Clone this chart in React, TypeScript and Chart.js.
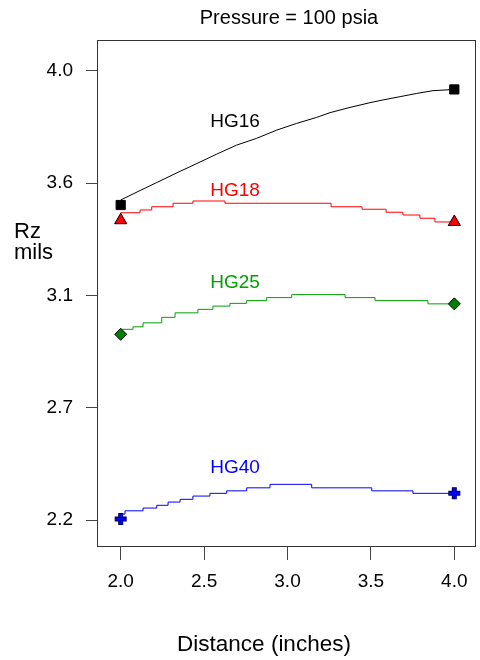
import React, { useEffect, useRef } from 'react';
import { Chart, registerables } from 'chart.js';

Chart.register(...registerables);

const FONT = "'Liberation Sans', Arial, Helvetica, sans-serif";

const TITLE = 'Pressure = 100 psia';
const X_TITLE = 'Distance (inches)';
const Y_TITLE_LINES = ['Rz', 'mils'];

const X_TICKS = [2.0, 2.5, 3.0, 3.5, 4.0];
const Y_TICKS = [2.2, 2.65, 3.1, 3.55, 4.0];
const Y_TICK_LABELS = ['2.2', '2.7', '3.1', '3.6', '4.0'];

const SERIES_NAMES = ['HG16', 'HG18', 'HG25', 'HG40'];
const SERIES_COLORS = ['#000000', '#ff0000', '#00a000', '#0000ff'];

const HG16_X = [2.0, 2.116, 2.216, 2.356, 2.415, 2.576, 2.695, 2.815, 2.935, 3.055, 3.175, 3.255, 3.375, 3.495, 3.573, 3.675, 3.775, 3.872, 4.0];
const HG16_Y = [3.482, 3.52, 3.552, 3.597, 3.615, 3.666, 3.702, 3.729, 3.762, 3.789, 3.813, 3.832, 3.853, 3.872, 3.883, 3.896, 3.909, 3.92, 3.925];

const HG18_X = [2.0, 2.116, 2.186, 2.314, 2.433, 2.625, 3.261, 3.447, 3.591, 3.692, 3.794, 3.884, 3.986, 4.0];
const HG18_Y = [3.42, 3.431, 3.442, 3.455, 3.469, 3.478, 3.469, 3.455, 3.445, 3.433, 3.422, 3.409, 3.394, 3.394];

const HG25_X = [2.0, 2.074, 2.134, 2.246, 2.326, 2.463, 2.553, 2.655, 2.755, 2.875, 3.025, 3.345, 3.525, 3.842, 4.0];
const HG25_Y = [2.954, 2.964, 2.974, 2.99, 3.012, 3.03, 3.044, 3.057, 3.068, 3.079, 3.091, 3.103, 3.091, 3.079, 3.066];

const HG40_X = [2.0, 2.026, 2.134, 2.216, 2.284, 2.356, 2.433, 2.535, 2.635, 2.755, 2.895, 3.145, 3.505, 3.752, 3.914, 4.0];
const HG40_Y = [2.213, 2.224, 2.237, 2.248, 2.259, 2.272, 2.283, 2.296, 2.307, 2.317, 2.329, 2.343, 2.329, 2.317, 2.307, 2.307];

const MARKER_X = [2.0, 4.0];
const HG16_MARK = [3.462, 3.925];
const HG18_MARK = [3.401, 3.394];
const HG25_MARK = [2.944, 3.066];
const HG40_MARK = [2.204, 2.307];

const LABEL_X = [2.537, 2.537, 2.537, 2.537];
const LABEL_Y = [3.796, 3.519, 3.149, 2.409];

const pts = (xs: number[], ys: number[]) => xs.map((x, i) => ({ x, y: ys[i] }));

const decorPlugin = {
  id: 'decor',
  beforeDatasetsDraw(chart: any) {
    const { ctx, chartArea } = chart;
    ctx.save();
    ctx.strokeStyle = '#333333';
    ctx.lineWidth = 1;
    const l = Math.round(chartArea.left) + 0.5;
    const t = Math.round(chartArea.top) + 0.5;
    const r = Math.round(chartArea.right) - 0.5;
    const b = Math.round(chartArea.bottom) - 0.5;
    ctx.strokeRect(l, t, r - l, b - t);
    ctx.restore();
  },
  afterDraw(chart: any) {
    const { ctx, scales } = chart;
    ctx.save();
    ctx.textBaseline = 'middle';
    ctx.textAlign = 'left';
    ctx.font = `19px ${FONT}`;
    SERIES_NAMES.forEach((name, i) => {
      ctx.fillStyle = SERIES_COLORS[i];
      ctx.fillText(name, scales.x.getPixelForValue(LABEL_X[i]), scales.y.getPixelForValue(LABEL_Y[i]));
    });
    ctx.fillStyle = '#000000';
    ctx.textAlign = 'center';
    ctx.font = `20px ${FONT}`;
    ctx.fillText(TITLE, 289, 18);
    ctx.font = `22.5px ${FONT}`;
    ctx.fillText(X_TITLE, 264, 645);
    ctx.textAlign = 'left';
    ctx.font = `22px ${FONT}`;
    ctx.fillText(Y_TITLE_LINES[0], 14, 232);
    ctx.fillText(Y_TITLE_LINES[1], 14, 253);
    ctx.restore();
  },
};

export default function App() {
  const ref = useRef<HTMLCanvasElement | null>(null);

  useEffect(() => {
    document.body.style.margin = '0';
    const canvas = ref.current;
    if (!canvas) return;

    const lineDs = (label: string, xs: number[], ys: number[], color: string, stepped: any) => ({
      label,
      data: pts(xs, ys),
      borderColor: color,
      backgroundColor: color,
      borderWidth: 1,
      pointRadius: 0,
      stepped,
      tension: 0,
      order: 2,
    });

    const markDs = (label: string, ys: number[], style: string, radius: number, fill: string, border: string, bw: number, order: number) => ({
      label,
      data: pts(MARKER_X, ys),
      showLine: false,
      pointStyle: style,
      pointRadius: radius,
      pointBackgroundColor: fill,
      pointBorderColor: border,
      pointBorderWidth: bw,
      order,
    });

    const chart = new Chart(canvas, {
      type: 'line',
      data: {
        datasets: [
          lineDs(SERIES_NAMES[0], HG16_X, HG16_Y, SERIES_COLORS[0], false),
          lineDs(SERIES_NAMES[1], HG18_X, HG18_Y, SERIES_COLORS[1], 'after'),
          lineDs(SERIES_NAMES[2], HG25_X, HG25_Y, SERIES_COLORS[2], 'after'),
          lineDs(SERIES_NAMES[3], HG40_X, HG40_Y, SERIES_COLORS[3], 'after'),
          markDs('HG16 marks', HG16_MARK, 'rect', 6.5, '#000000', '#000000', 1, 1),
          markDs('HG18 marks', HG18_MARK, 'triangle', 7, '#ff0000', '#000000', 1, 1),
          markDs('HG25 marks', HG25_MARK, 'rectRot', 6, '#008000', '#000000', 1, 1),
          markDs('HG40 marks outline', HG40_MARK, 'cross', 6, '#000040', '#000040', 5, 1),
          markDs('HG40 marks', HG40_MARK, 'cross', 5.5, '#0000ff', '#0000ff', 3, 0),
        ] as any,
      },
      options: {
        animation: false,
        responsive: false,
        maintainAspectRatio: false,
        layout: { autoPadding: false, padding: { left: 0, right: 4, top: 40, bottom: 0 } },
        plugins: {
          legend: { display: false },
          title: { display: false },
          tooltip: { enabled: false },
        },
        scales: {
          x: {
            type: 'linear',
            min: 1.858,
            max: 4.13,
            afterBuildTicks: (scale: any) => {
              scale.ticks = X_TICKS.map((v) => ({ value: v }));
            },
            afterFit: (scale: any) => {
              scale.height = 113;
              scale.paddingLeft = 0;
              scale.paddingRight = 0;
            },
            ticks: {
              callback: (v: any) => Number(v).toFixed(1),
              color: '#000000',
              font: { family: FONT, size: 19 },
              padding: 10,
              maxRotation: 0,
              autoSkip: false,
            },
            grid: {
              display: true,
              drawOnChartArea: false,
              drawTicks: true,
              tickLength: 13,
              color: '#444444',
            },
            border: { display: false },
          },
          y: {
            type: 'linear',
            min: 2.092,
            max: 4.123,
            afterBuildTicks: (scale: any) => {
              scale.ticks = Y_TICKS.map((v) => ({ value: v }));
            },
            afterFit: (scale: any) => {
              scale.width = 97;
              scale.paddingTop = 0;
              scale.paddingBottom = 0;
            },
            ticks: {
              callback: (_v: any, i: number) => Y_TICK_LABELS[i],
              color: '#000000',
              font: { family: FONT, size: 19 },
              padding: 13,
              autoSkip: false,
            },
            grid: {
              display: true,
              drawOnChartArea: false,
              drawTicks: true,
              tickLength: 11,
              color: '#444444',
            },
            border: { display: false },
          },
        },
      } as any,
      plugins: [decorPlugin],
    });

    return () => chart.destroy();
  }, []);

  return (
    <div style={{ width: 480, height: 660 }}>
      <canvas ref={ref} width={480} height={660} style={{ display: 'block' }} />
    </div>
  );
}
